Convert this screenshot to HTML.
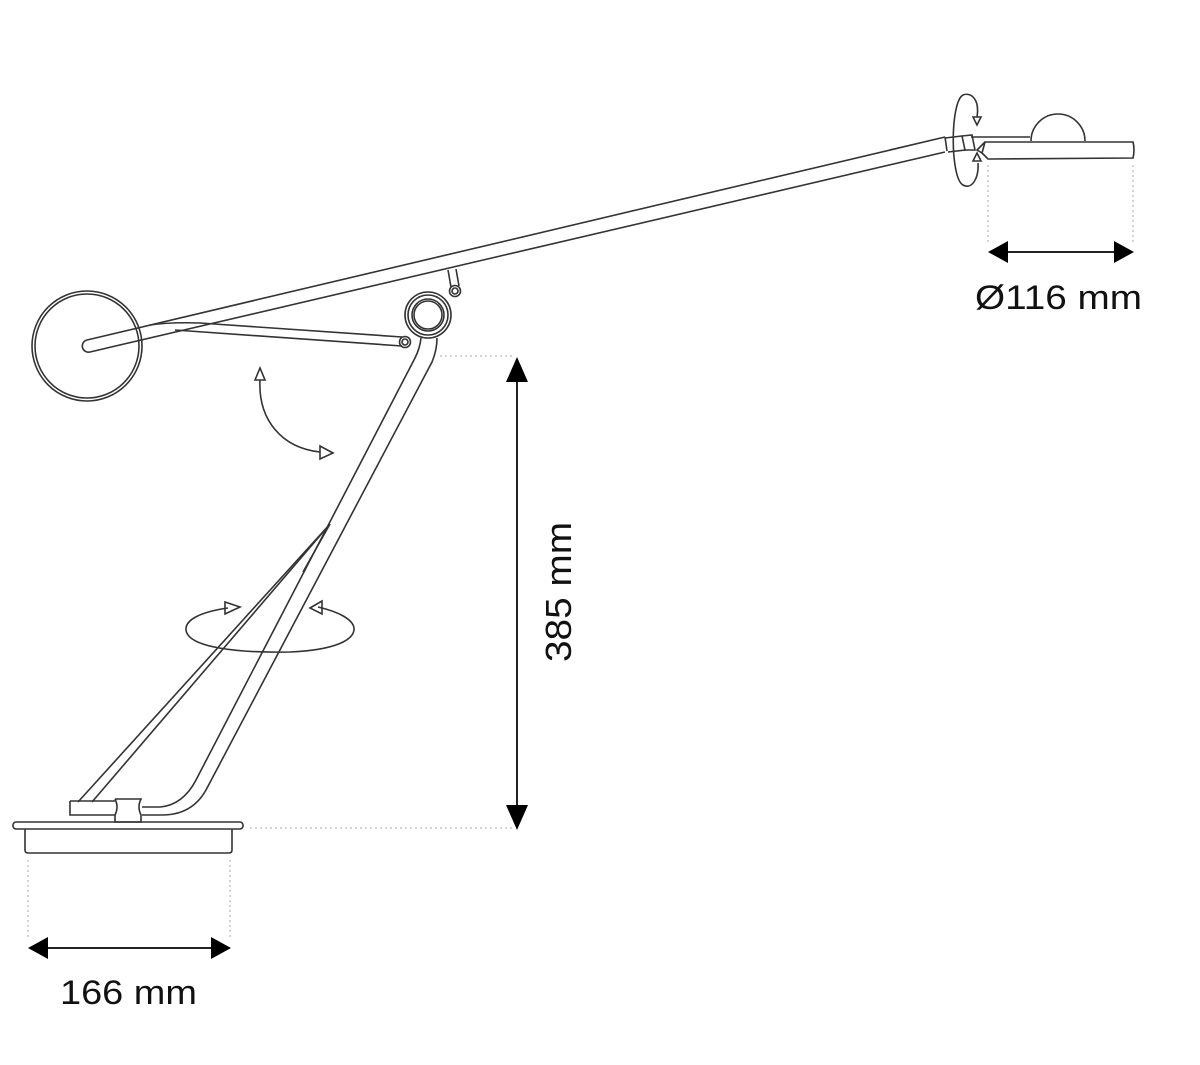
<!DOCTYPE html>
<html><head><meta charset="utf-8"><style>
html,body{margin:0;padding:0;background:#fff;}
svg{display:block;}
text{font-family:"Liberation Sans Narrow","Liberation Sans",sans-serif;fill:#111;}
</style></head><body>
<svg width="1200" height="1065" viewBox="0 0 1200 1065" xmlns="http://www.w3.org/2000/svg">
<g fill="none" stroke="#333" stroke-width="1.6">
<!-- counterweight -->
<circle cx="87" cy="346" r="55"/>
<circle cx="87" cy="346" r="52"/>
<!-- main arm -->
<path d="M945,137 L87,340 A6,6 0 0 0 90,352 L945,152"/>
<path d="M945,137 L947,151"/>
<!-- joint at head -->
<path d="M945,138 L962,136 L965,150 L948,152"/>
<path d="M962,136 L972,135 L975,150 L965,150"/>
<!-- head -->
<path d="M971,137 L1030,137"/>
<path d="M1031,141 A27,27 0 0 1 1085,141"/>
<path d="M985,142 L1133,142 Q1135,150 1133,158 L988,159 L982,153 Z"/>
<path d="M985,142 L977,150 L982,153"/>
<!-- rotation arrow head -->
<path d="M977,117 C980,98 970,92 963,95 C950,102 950,178 963,185 C972,190 979,178 978,163"/>
<path d="M973,117 L977,125 L981,117 Z"/>
<path d="M973,161 L977,153 L981,161 Z"/>
<!-- lower link -->
<path d="M150,325 Q170,322 200,323 L402,337"/>
<path d="M175,330 L402,346"/>
<!-- short upper link -->
<path d="M448,270 L451,287 M456,269 L459,286"/>
<circle cx="455" cy="291" r="5.5"/><circle cx="455" cy="291" r="3"/>
<circle cx="405" cy="342" r="5.5"/><circle cx="405" cy="342" r="3"/>
<!-- main joint -->
<circle cx="428" cy="315" r="23"/>
<circle cx="428" cy="315" r="20"/>
<circle cx="428" cy="315" r="16"/>
<circle cx="428" cy="315" r="14"/>
<!-- vertical post (right leg) -->
<path d="M421,338 Q420,348 415,358 L196,780 Q183,805 160,807 L142,807"/>
<path d="M437,338 Q437,350 432,362 L206,790 Q192,815 162,815 L142,815"/>
<!-- left strut -->
<path d="M330,524 L78,802"/>
<path d="M330,524 L92,802"/>
<path d="M330,524 L303,572"/>
<!-- base tube -->
<path d="M70,801 L115,801 M70,801 L70,815 L115,815"/>
<path d="M115,799 L141,799 Q137,807 141,815 L141,822 L115,822 L115,815 Q119,807 115,799"/>
<!-- base -->
<rect x="13" y="822" width="230" height="7" rx="3"/>
<path d="M25,829 L25,850 Q25,853 28,853 L229,853 Q232,853 232,850 L232,829"/>
<!-- pitch arrow -->
<path d="M260,380 C258,420 282,448 320,452"/>
<path d="M255,380 L260,368 L265,380 Z"/>
<path d="M320,446 L333,453 L320,459 Z"/>
<!-- swivel arrow -->
<path d="M228,608 C200,612 185,620 186,630 C188,648 240,653 290,652 C335,650 355,640 354,628 C353,620 340,612 318,607"/>
<path d="M225,602 L240,607 L225,614 Z"/>
<path d="M322,601 L310,608 L322,614 Z"/>
</g>
<!-- dashed guides -->
<g stroke="#aaa" stroke-width="1" stroke-dasharray="2,3" fill="none">
<path d="M988,165 V245 M1133,165 V245"/>
<path d="M440,356 H512 M250,828 H512"/>
<path d="M28,860 V940 M230,860 V940"/>
</g>
<!-- dimension arrows -->
<g stroke="#222" stroke-width="2" fill="#000">
<line x1="1005" y1="252" x2="1116" y2="252"/>
<line x1="46" y1="948" x2="212" y2="948"/>
<line x1="517" y1="380" x2="517" y2="806"/>
</g>
<g fill="#000">
<path d="M988,252 L1008,241 L1008,263 Z"/>
<path d="M1134,252 L1114,241 L1114,263 Z"/>
<path d="M28,948 L48,937 L48,959 Z"/>
<path d="M231,948 L211,937 L211,959 Z"/>
<path d="M517,357 L506,382 L528,382 Z"/>
<path d="M517,830 L506,805 L528,805 Z"/>
</g>
<text x="975" y="309" font-size="34" textLength="167" lengthAdjust="spacingAndGlyphs">Ø116 mm</text>
<text x="60" y="1004" font-size="34" textLength="137" lengthAdjust="spacingAndGlyphs">166 mm</text>
<text transform="translate(571,662) rotate(-90)" font-size="36" textLength="140" lengthAdjust="spacingAndGlyphs">385 mm</text>
</svg>
</body></html>
